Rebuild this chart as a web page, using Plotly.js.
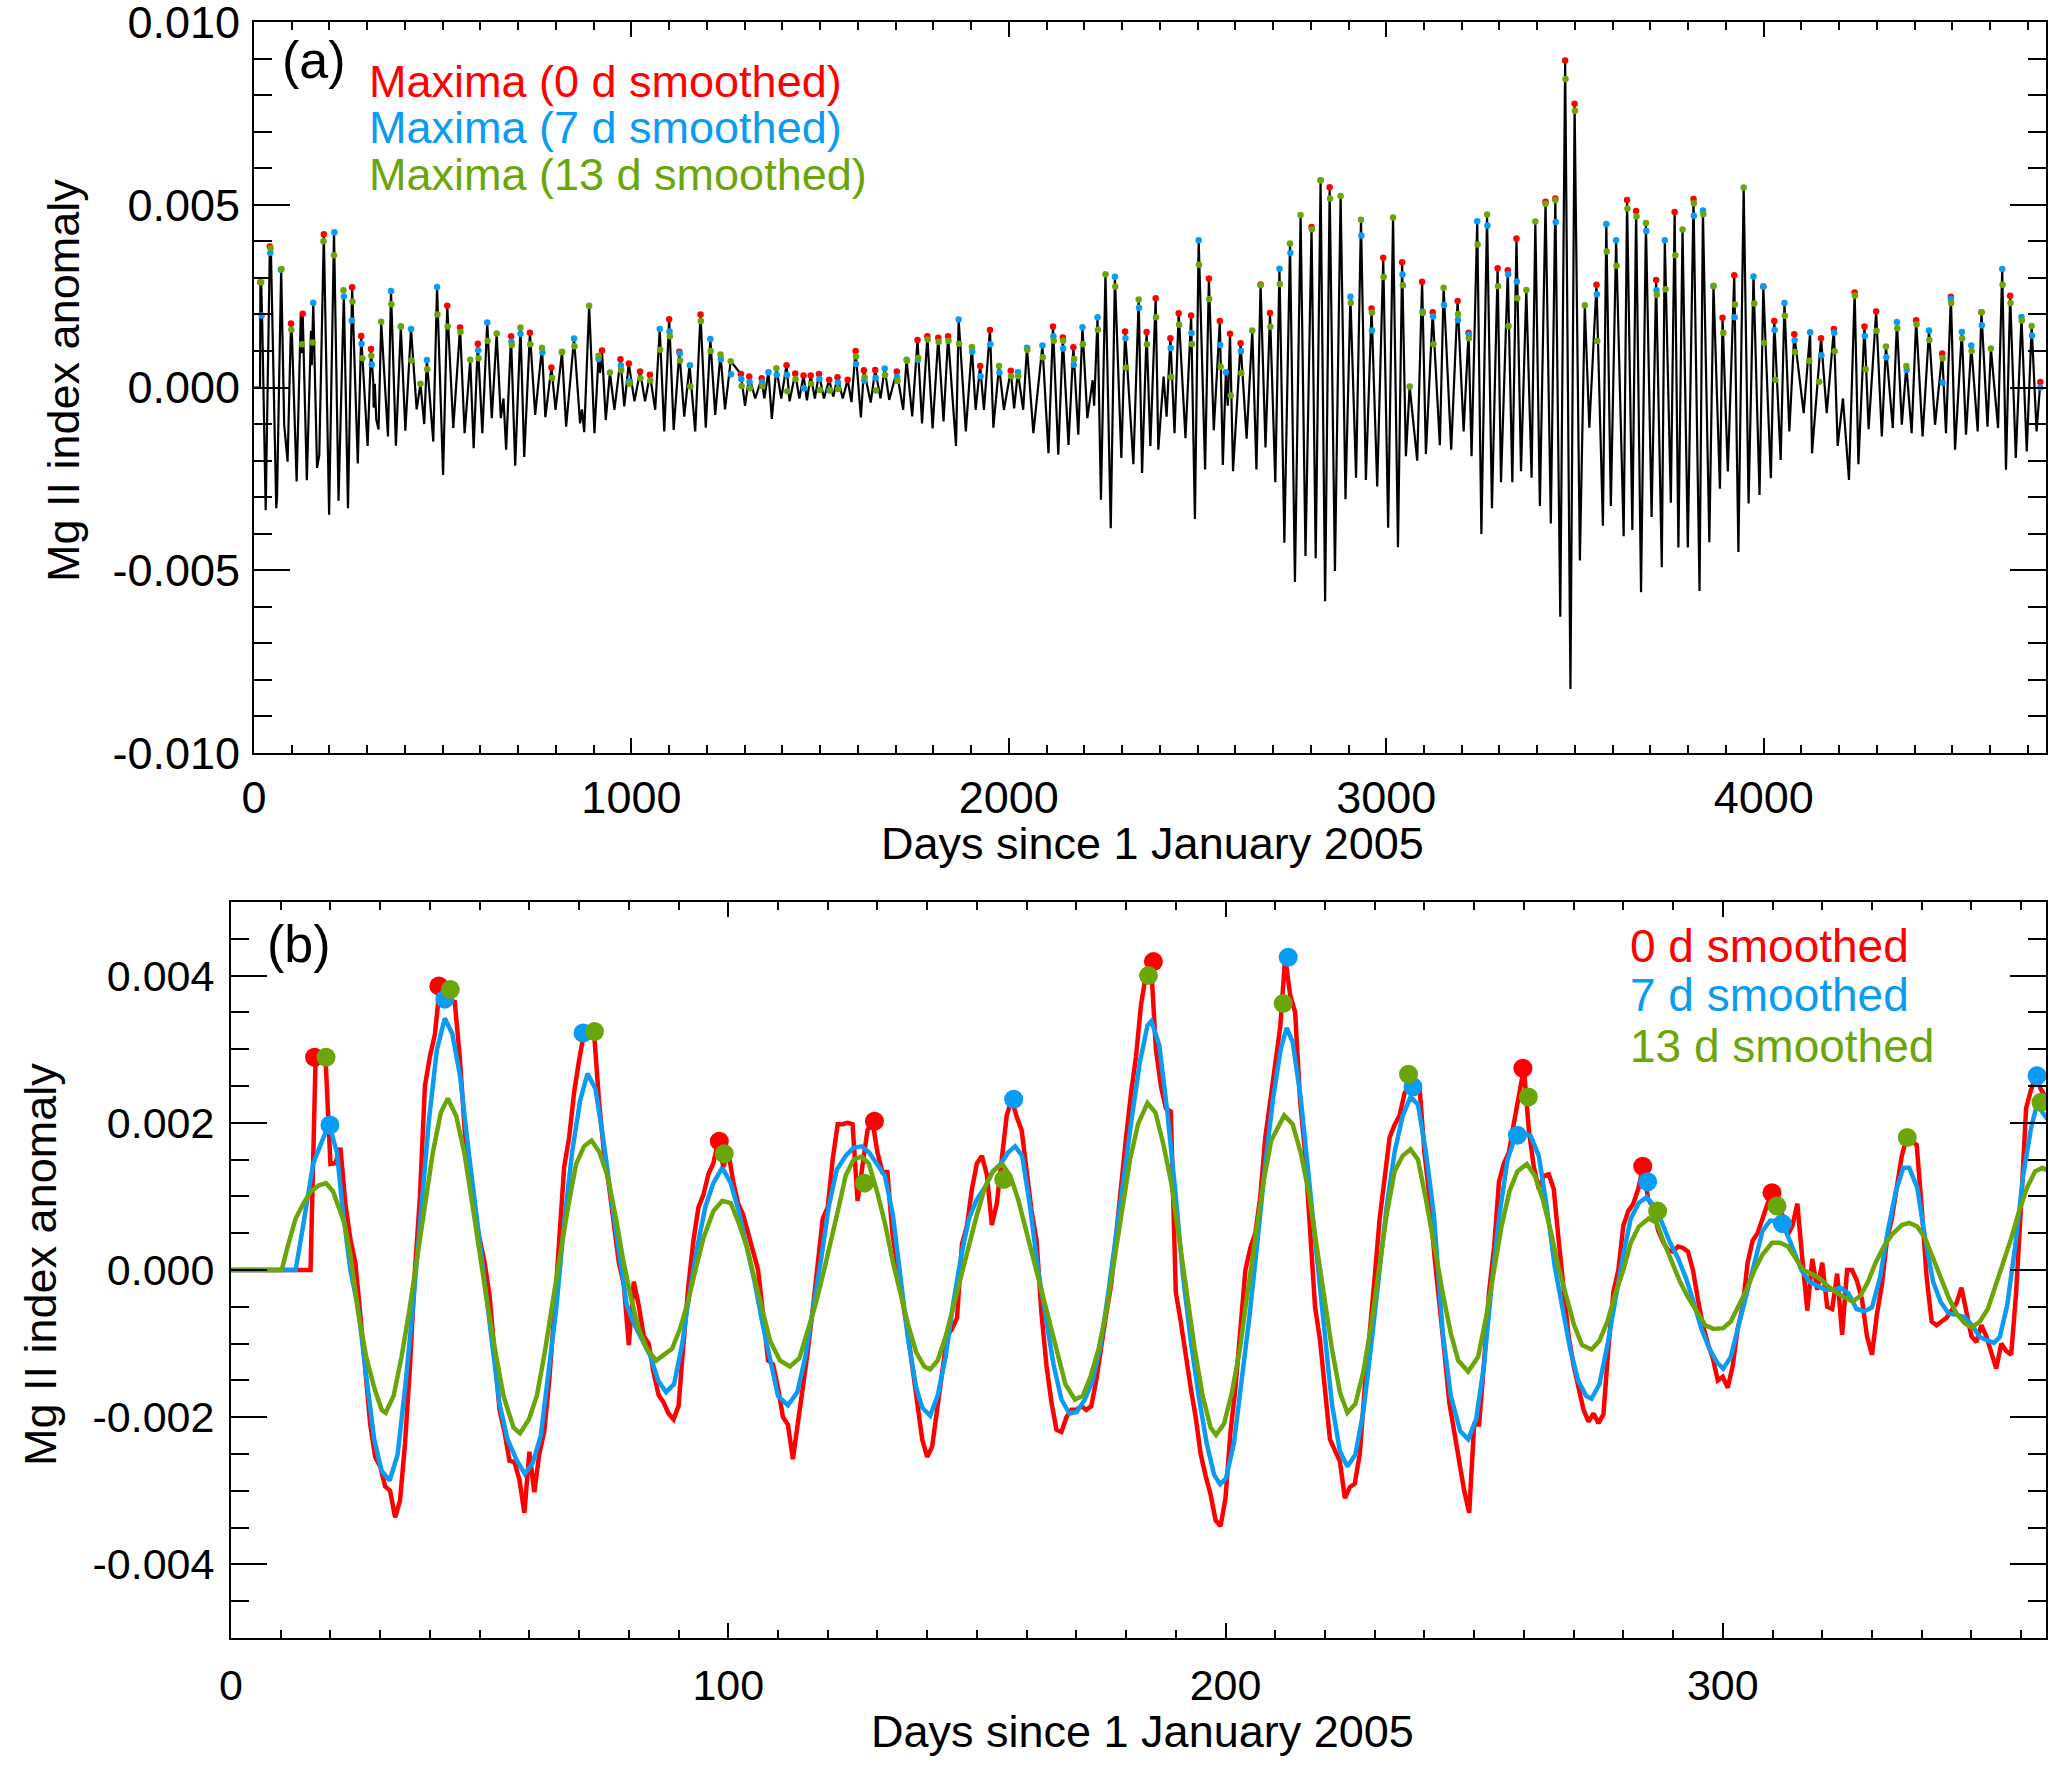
<!DOCTYPE html>
<html>
<head>
<meta charset="utf-8">
<script src="https://cdn.plot.ly/plotly-3.0.1.min.js"></script>
<style>
  html, body { margin: 0; padding: 0; background: #fff; }
  #plot { width: 2067px; height: 1775px; }
</style>
</head>
<body>
<div id="plot"></div>
<script>
// All anomaly values below are in units of 1e-3

// Panel (a): 0 d smoothed Mg II anomaly, turning points [day, value]
const lineA = [
  [0,0],[16,0],[17,2.84],[19,2.89],[22,1.66],[31,-3.36],[42,3.86],[45,3.64],[59,-3.3],[61,-3.02],
  [72,3.24],[80,-1.02],[89,-2.03],[98,1.75],[100,1.6],[113,-2.57],[124,2.0],[126,0.94],[129,2.02],
  [140,-2.54],[151,1.55],[153,0.61],[157,2.32],[167,-2.2],[173,-1.85],[185,4.19],[199,-3.48],[212,4.25],
  [224,-3.1],[238,2.55],[249,-3.3],[260,2.74],[275,-2.08],[284,1.41],[301,-1.6],[310,1.05],[316,0.15],
  [317,-0.55],[320,0.1],[324,-0.88],[330,-1.15],[337,1.8],[355,-1.34],[363,2.64],
  [376,-1.59],[389,1.67],[401,-1.18],[416,1.6],[431,-0.6],[441,0.1],[451,-1.0],[458,0.75],[475,-1.48],
  [485,2.75],[501,-2.39],[512,2.24],[528,-1.11],[546,1.64],[558,-1.25],[573,0.76],[582,-1.66],[593,1.2],
  [605,-1.25],[618,1.78],[630,-0.84],[643,1.48],[654,-0.84],[661,-0.3],[668,-1.7],[681,1.4],[692,-2.14],
  [706,1.64],[716,-1.9],[731,1.5],[745,-0.75],[763,1.09],[772,-0.81],[788,0.55],[799,-0.61],[816,0.97],
  [827,-1.07],[848,1.34],[864,-0.98],[869,-0.6],[875,-1.22],[888,2.24],[902,-1.25],[913,0.87],[917,0.4],
  [922,1.01],[932,-0.89],[943,0.41],[955,-0.61],[971,0.77],[981,-0.52],[993,0.66],[1008,-0.38],[1023,0.44],
  [1036,-0.38],[1049,0.35],[1063,-0.61],[1075,1.6],[1087,-1.2],[1100,1.87],[1112,-1.16],[1127,0.98],
  [1140,-0.8],[1154,0.61],[1169,-1.2],[1183,2.0],[1197,-1.1],[1209,1.33],[1222,-0.75],[1236,0.9],[1248,-0.6],
  [1263,0.72],[1290,0.37],[1301,-0.5],[1312,0.3],[1328,-0.3],[1345,0.25],[1352,-0.3],[1363,0.42],[1372,-0.86],
  [1384,0.53],[1397,-0.3],[1411,0.61],[1419,-0.38],[1434,0.38],[1445,-0.3],[1456,0.33],[1465,-0.35],
  [1475,0.33],[1486,-0.3],[1497,0.37],[1510,-0.3],[1524,0.21],[1535,-0.25],[1546,0.28],[1560,-0.3],
  [1573,0.21],[1583,-0.4],[1594,1.0],[1608,-0.82],[1616,0.47],[1634,-0.41],[1646,0.48],[1660,-0.3],
  [1671,0.52],[1683,-0.34],[1703,0.44],[1720,-0.61],[1729,0.76],[1744,-0.79],[1758,1.3],[1770,-0.98],
  [1784,1.4],[1798,-1.12],[1813,1.36],[1827,-0.93],[1839,1.4],[1860,-1.6],[1867,1.86],[1886,-1.2],
  [1902,1.1],[1912,-0.61],[1924,0.59],[1934,-0.61],[1950,1.57],[1959,-1.1],[1974,0.59],[1987,-0.61],
  [2005,0.46],[2014,-0.57],[2024,0.42],[2038,-0.61],[2048,1.09],[2065,-1.25],[2089,1.15],[2105,-1.8],
  [2117,1.67],[2131,-1.84],[2143,1.37],[2158,-1.57],[2171,1.1],[2184,-1.29],[2195,1.65],[2208,-0.84],
  [2222,0.2],[2226,-0.5],[2235,1.92],[2244,-3.07],[2256,3.1],[2270,-3.85],[2281,3.03],[2298,-1.93],
  [2308,1.53],[2330,-2.1],[2344,2.41],[2353,-2.34],[2365,1.52],[2375,-1.6],[2389,2.44],[2396,-1.7],
  [2410,0.3],[2418,-0.8],[2428,1.35],[2439,-1.25],[2450,2.03],[2468,-1.39],[2483,1.97],[2493,-3.6],
  [2503,4.03],[2520,-2.24],[2530,2.98],[2543,-1.17],[2559,1.82],[2567,-2.12],[2575,0.42],[2580,-0.5],
  [2586,1.47],[2594,-2.29],[2614,1.21],[2630,-1.4],[2645,1.56],[2656,-2.24],[2667,2.82],[2680,-1.64],
  [2692,2.04],[2706,-2.59],[2717,3.25],[2730,-4.25],[2745,3.94],[2758,-5.32],[2773,4.72],[2786,-4.61],
  [2802,4.39],[2813,-4.67],[2826,5.67],[2838,-5.85],[2850,5.48],[2864,-5.02],[2879,5.24],[2892,-3.06],
  [2905,2.48],[2920,-2.47],[2933,4.59],[2946,-2.53],[2961,2.16],[2976,-2.71],[2992,3.55],[3005,-3.84],
  [3018,4.65],[3031,-4.37],[3042,3.43],[3052,-1.88],[3062,0.03],[3082,-2.0],[3095,2.89],[3105,-1.82],
  [3123,2.06],[3142,-1.58],[3152,2.73],[3172,-1.7],[3189,2.37],[3205,-1.2],[3218,1.5],[3226,-1.88],
  [3241,4.55],[3252,-4.01],[3267,4.73],[3280,-3.3],[3295,3.26],[3304,-2.59],[3322,3.21],[3334,-2.59],
  [3345,4.08],[3357,-2.29],[3371,2.67],[3385,-2.47],[3395,4.54],[3407,-3.24],[3422,5.08],[3436,-3.72],
  [3448,5.17],[3461,-6.27],[3474,8.95],[3488,-8.25],[3499,7.76],[3513,-4.73],[3526,2.25],[3538,-1.1],
  [3557,2.81],[3574,-3.78],[3583,4.47],[3595,-3.24],[3609,4.03],[3629,-4.07],[3638,5.13],[3652,-3.9],
  [3662,4.83],[3675,-5.6],[3688,4.5],[3703,-3.54],[3715,2.94],[3730,-4.92],[3738,4.03],[3754,-3.15],
  [3764,4.8],[3774,-4.38],[3785,4.32],[3799,-4.38],[3814,5.16],[3830,-5.57],[3839,4.84],[3856,-4.23],
  [3867,2.78],[3884,-2.77],[3891,1.91],[3905,-2.3],[3922,3.07],[3933,-4.5],[3947,5.47],[3960,-3.17],
  [3973,3.04],[3989,-2.94],[3999,2.76],[4019,-2.48],[4028,1.82],[4045,-1.98],[4055,2.31],[4068,-1.2],
  [4081,1.46],[4106,-0.7],[4123,1.51],[4128,-1.8],[4152,1.35],[4167,-0.7],[4186,1.6],[4196,-1.6],
  [4210,-0.3],[4226,-2.53],[4241,2.6],[4251,-2.1],[4267,1.67],[4278,-1.14],[4298,2.08],[4313,-1.34],
  [4324,1.12],[4342,-1.11],[4353,1.79],[4366,-1.02],[4378,0.59],[4392,-1.25],[4404,1.84],[4421,-1.34],
  [4438,1.56],[4454,-1.02],[4473,0.93],[4483,-1.25],[4496,2.48],[4507,-1.7],[4525,1.52],[4536,-1.29],
  [4550,1.15],[4567,-1.2],[4577,2.06],[4593,-1.07],[4602,1.07],[4621,-1.11],[4632,3.24],[4642,-2.25],
  [4653,2.51],[4668,-1.93],[4683,1.93],[4697,-1.75],[4710,1.68],[4723,-1.2],[4733,0.15]
];

// Panel (a): maxima found in the 0, 7 and 13 d smoothed series [day, value]
const maxA0 = [
  [17,2.88],[42,3.86],[98,1.75],[129,2.02],[185,4.19],[260,2.74],[284,1.41],[310,1.05],[512,2.24],
  [546,1.64],[593,1.2],[681,1.4],[731,1.5],[788,0.55],[816,0.97],[922,1.01],[971,0.77],[993,0.66],
  [1023,0.44],[1049,0.35],[1100,1.87],[1127,0.98],[1183,2.0],[1290,0.37],[1312,0.3],[1345,0.25],
  [1411,0.61],[1434,0.38],[1456,0.33],[1475,0.33],[1497,0.37],[1524,0.21],[1546,0.28],[1573,0.21],
  [1594,1.0],[1616,0.47],[1646,0.48],[1703,0.44],[1758,1.3],[1784,1.4],[1813,1.36],[1839,1.4],
  [1924,0.59],[1950,1.57],[2005,0.46],[2117,1.67],[2143,1.37],[2171,1.1],[2308,1.53],[2365,1.52],
  [2389,2.44],[2428,1.35],[2450,2.03],[2483,1.97],[2530,2.98],[2559,1.82],[2586,1.47],[2614,1.21],
  [2667,2.82],[2692,2.04],[2802,4.39],[2850,5.48],[2961,2.16],[2992,3.55],[3042,3.43],[3095,2.89],
  [3123,2.06],[3189,2.37],[3218,1.5],[3295,3.26],[3322,3.21],[3345,4.08],[3422,5.08],[3448,5.17],
  [3474,8.95],[3499,7.76],[3557,2.81],[3638,5.13],[3662,4.83],[3715,2.94],[3764,4.8],[3814,5.16],
  [3891,1.91],[3922,3.07],[3999,2.76],[4028,1.82],[4081,1.46],[4152,1.35],[4186,1.6],[4241,2.6],
  [4267,1.67],[4298,2.08],[4404,1.84],[4473,0.93],[4496,2.48],[4577,2.06],[4653,2.51],[4733,0.15]
];
const maxA7 = [
  [20,1.97],[43,3.68],[71,3.22],[157,2.32],[213,4.25],[238,2.49],[259,1.83],[285,1.2],[312,0.63],
  [363,2.64],[389,1.67],[416,1.6],[458,0.75],[485,2.75],[594,1.02],[618,1.78],[682,1.25],[706,1.47],
  [764,0.96],[848,1.34],[913,0.78],[972,0.6],[994,0.17],[1075,1.6],[1101,1.53],[1128,0.93],[1155,0.61],
  [1209,1.33],[1237,0.77],[1264,0.36],[1291,0.23],[1313,0.15],[1346,0.15],[1363,0.42],[1385,0.35],
  [1412,0.35],[1457,-0.02],[1498,0.23],[1525,-0.07],[1547,0.14],[1595,0.64],[1617,0.19],[1647,0.26],
  [1671,0.52],[1704,0.29],[1729,0.76],[1759,0.75],[1867,1.86],[1903,0.98],[1925,0.31],[1951,1.18],
  [1975,0.41],[2024,0.42],[2048,1.09],[2089,1.15],[2118,1.4],[2144,1.07],[2172,0.62],[2195,1.65],
  [2235,1.92],[2281,3.03],[2309,1.35],[2345,2.18],[2429,1.08],[2484,1.49],[2503,4.03],[2560,1.16],
  [2575,0.42],[2615,1.0],[2717,3.25],[2746,3.68],[2826,5.67],[2905,2.48],[2934,4.16],[2962,1.56],
  [3043,3.09],[3096,2.08],[3124,1.94],[3153,2.26],[3190,1.85],[3219,1.45],[3241,4.55],[3268,4.43],
  [3323,3.1],[3346,2.9],[3449,4.53],[3558,2.55],[3583,4.47],[3609,4.03],[3689,4.28],[3716,2.66],
  [3738,4.03],[3815,4.7],[3839,4.84],[3867,2.78],[3923,1.92],[3973,3.04],[3999,2.76],[4029,1.57],
  [4055,2.31],[4082,1.29],[4123,1.51],[4153,0.88],[4187,1.5],[4268,1.41],[4325,0.83],[4353,1.79],
  [4379,0.48],[4438,1.56],[4474,0.13],[4496,2.42],[4525,1.52],[4550,1.15],[4578,1.7],[4632,3.24],
  [4683,1.93],[4711,1.42],[4733,0.0]
];
const maxA13 = [
  [19,2.88],[44,3.81],[73,3.24],[99,1.58],[127,1.18],[155,1.23],[184,4.0],[212,3.62],[237,2.66],
  [261,2.35],[287,0.8],[311,0.87],[337,1.8],[364,2.28],[389,1.67],[417,0.74],[441,0.1],[459,0.5],
  [486,2.0],[513,1.67],[547,1.52],[573,0.76],[595,0.8],[619,1.28],[643,1.48],[683,1.16],[706,1.64],
  [732,1.18],[763,1.09],[790,0.26],[816,0.97],[849,1.13],[888,2.24],[913,0.87],[943,0.41],[973,0.47],
  [995,0.1],[1024,0.25],[1050,0.19],[1076,1.03],[1102,1.4],[1129,0.74],[1156,0.03],[1184,1.82],
  [1210,1.0],[1236,0.9],[1263,0.72],[1292,0.04],[1314,-0.02],[1347,0.04],[1384,0.53],[1413,-0.1],
  [1435,0.23],[1476,0.1],[1499,-0.07],[1526,-0.08],[1548,-0.04],[1595,0.85],[1618,0.28],[1648,-0.08],
  [1672,0.34],[1705,0.18],[1730,0.73],[1760,0.81],[1785,1.31],[1814,1.25],[1840,1.28],[1868,1.2],
  [1902,1.11],[1974,0.59],[2006,0.31],[2025,0.31],[2049,1.03],[2090,0.83],[2119,1.28],[2144,1.28],
  [2173,0.78],[2196,1.18],[2236,1.58],[2256,3.1],[2282,2.76],[2310,0.55],[2344,2.41],[2366,1.18],
  [2390,1.92],[2430,0.29],[2451,1.72],[2485,1.19],[2504,3.36],[2531,2.42],[2561,0.57],[2588,-0.22],
  [2616,0.4],[2645,1.56],[2667,2.8],[2693,1.66],[2718,2.83],[2745,3.94],[2773,4.72],[2803,4.33],
  [2826,5.67],[2851,5.17],[2879,5.24],[2906,2.32],[2933,4.59],[2962,2.05],[2993,3.02],[3018,4.65],
  [3044,2.8],[3062,0.03],[3097,2.04],[3125,1.18],[3152,2.73],[3190,2.01],[3219,1.35],[3242,3.91],
  [3267,4.73],[3296,2.77],[3324,1.68],[3347,2.44],[3371,2.67],[3395,4.54],[3422,5.03],[3448,5.13],
  [3475,8.44],[3500,7.57],[3526,2.25],[3559,1.27],[3584,3.72],[3610,3.33],[3639,4.9],[3663,4.68],
  [3688,4.5],[3717,2.54],[3740,2.69],[3766,3.62],[3785,4.32],[3815,5.04],[3840,4.74],[3867,2.78],
  [3893,1.5],[3924,2.27],[3947,5.47],[3975,2.3],[4001,1.22],[4031,0.21],[4056,1.96],[4083,0.97],
  [4121,0.73],[4147,0.16],[4188,0.99],[4242,2.52],[4270,0.5],[4299,1.55],[4324,1.12],[4354,1.62],
  [4378,0.59],[4405,1.73],[4439,1.3],[4474,0.8],[4497,2.31],[4526,1.34],[4551,1.0],[4577,2.06],
  [4602,1.07],[4633,2.81],[4654,2.31],[4684,1.83],[4710,1.68]
];

// Panel (b): first year, three smoothings [day, value]
const lineB0 = [
  [0,0],[16,0],[17,2.84],[19,2.89],[20,1.44],[21,1.45],[22,1.66],[23,0.9],[24,0.42],[25,0.1],[26,-0.6],
  [27,-1.44],[28,-2.1],[29,-2.54],[30,-2.67],[31,-2.94],[32,-3.0],[33,-3.36],[34,-3.13],[35,-2.35],
  [36,-1.3],[37,0.0],[38,1.0],[39,2.5],[40,2.9],[41,3.2],[42,3.86],[43,3.7],[44,3.64],[45,3.64],
  [46,2.9],[47,1.9],[48,1.18],[49,0.75],[50,0.4],[51,0.1],[52,-0.35],[53,-1.2],[54,-1.9],[55,-2.2],
  [56,-2.59],[57,-2.61],[58,-2.85],[59,-3.3],[60,-2.47],[61,-3.02],[62,-2.5],[63,-2.19],[64,-1.5],
  [65,-0.6],[66,0.5],[67,1.4],[68,1.8],[69,2.41],[70,2.85],[71,3.22],[72,3.24],[73,3.24],[74,2.3],
  [75,1.6],[76,1.15],[77,0.6],[78,0.1],[79,-0.2],[80,-1.02],[81,-0.16],[82,-0.48],[83,-0.9],[84,-1.0],
  [85,-1.4],[86,-1.7],[87,-1.8],[88,-1.95],[89,-2.03],[90,-1.85],[91,-1.0],[92,-0.2],[93,0.4],[94,0.85],
  [95,1.02],[96,1.3],[97,1.45],[98,1.75],[99,1.4],[100,1.6],[101,1.2],[102,0.9],[103,0.75],[104,0.5],
  [105,0.3],[106,0.0],[107,-0.6],[108,-1.23],[109,-1.28],[110,-1.6],[111,-2.0],[112,-2.1],[113,-2.57],
  [114,-2.1],[115,-1.6],[116,-1.1],[117,-0.53],[118,0.1],[119,0.7],[120,0.85],[121,1.5],[122,1.98],
  [123,1.98],[124,2.0],[125,1.98],[126,0.94],[127,1.4],[128,1.9],[129,2.02],[130,1.6],[131,1.33],
  [132,1.33],[133,0.5],[134,0.0],[135,-0.4],[136,-0.8],[137,-1.3],[138,-1.85],[139,-2.3],[140,-2.54],
  [141,-2.4],[142,-1.9],[143,-1.4],[144,-0.9],[145,-0.8],[146,-0.65],[147,0.35],[148,0.6],[149,1.1],
  [150,1.45],[151,1.55],[152,1.3],[153,0.61],[154,0.9],[155,1.5],[156,2.1],[157,2.32],[158,2.08],
  [159,1.9],[160,1.3],[161,0.8],[162,0.4],[163,-0.6],[164,-1.3],[165,-1.8],[166,-2.17],[167,-2.2],
  [168,-2.0],[169,-1.9],[170,-1.9],[171,-1.85],[172,-1.9],[173,-1.85],[174,-1.5],[175,-1.0],[176,-0.6],
  [177,-0.2],[178,0.5],[179,1.2],[180,1.8],[181,2.4],[182,2.9],[183,3.6],[184,4.01],[185,4.19],[186,3.0],
  [187,2.5],[188,2.2],[189,2.15],[190,-0.3],[191,-0.7],[192,-1.2],[193,-1.6],[194,-2.0],[195,-2.5],
  [196,-2.8],[197,-3.05],[198,-3.4],[199,-3.48],[200,-3.1],[201,-2.2],[202,-1.6],[203,-0.8],[204,0.0],
  [205,0.3],[206,0.5],[207,1.0],[208,1.8],[209,2.3],[210,2.8],[211,3.3],[212,4.25],[213,3.74],[214,3.5],
  [215,2.3],[216,1.6],[217,0.6],[218,-0.5],[219,-0.95],[220,-1.6],[221,-2.3],[222,-2.45],[223,-2.6],
  [224,-3.1],[225,-2.95],[226,-2.9],[227,-2.5],[228,-1.6],[229,-0.9],[230,-0.1],[231,0.7],[232,1.2],
  [233,1.8],[234,1.97],[235,2.1],[236,2.4],[237,2.51],[238,2.55],[239,2.5],[240,1.6],[241,1.0],[242,0.2],
  [243,-0.4],[244,-1.1],[245,-1.8],[246,-2.25],[247,-2.6],[248,-3.0],[249,-3.3],[250,-2.1],[251,-2.1],
  [252,-1.25],[253,-0.3],[254,0.3],[255,1.2],[256,1.45],[257,1.6],[258,2.0],[259,2.4],[260,2.74],
  [261,1.9],[262,1.4],[263,1.1],[264,1.28],[265,1.3],[266,1.1],[267,0.4],[268,-0.2],[269,-0.9],[270,-1.3],
  [271,-1.6],[272,-1.9],[273,-2.06],[274,-1.95],[275,-2.08],[276,-1.96],[277,-1.06],[278,-0.3],[279,0.0],
  [280,0.6],[281,0.8],[282,0.9],[283,1.1],[284,1.41],[285,0.96],[286,0.86],[287,0.54],[288,0.38],
  [289,0.27],[290,0.25],[291,0.32],[292,0.3],[293,0.25],[294,0.0],[295,-0.4],[296,-0.75],[297,-1.0],
  [298,-1.2],[299,-1.5],[300,-1.45],[301,-1.6],[302,-1.3],[303,-0.8],[304,-0.5],[305,0.1],[306,0.4],
  [307,0.5],[308,0.7],[309,0.9],[310,1.05],[311,0.86],[312,0.75],[313,0.47],[314,0.6],[315,0.9],
  [316,0.15],[317,-0.55],[318,0.15],[319,-0.27],[320,0.1],[321,-0.5],[322,-0.53],[323,-0.05],[324,-0.88],
  [325,0.0],[326,0.0],[327,-0.15],[328,-0.4],[329,-0.9],[330,-1.15],[331,-0.6],[332,-0.2],[333,0.4],
  [334,0.7],[335,1.1],[336,1.55],[337,1.8],[338,1.75],[339,1.7],[340,0.85],[341,-0.1],[342,-0.7],
  [343,-0.75],[344,-0.7],[345,-0.65],[346,-0.55],[347,-0.45],[348,-0.24],[349,-0.6],[350,-0.9],
  [351,-0.98],[352,-0.75],[353,-0.9],[354,-1.1],[355,-1.34],[356,-1.0],[357,-1.1],[358,-1.15],
  [359,-0.3],[360,0.9],[361,2.2],[362,2.45],[363,2.64],[364,2.45],[365,2.35]
];
const lineB7 = [
  [0,0],[13,0],[14.6,0.64],[16.5,1.44],[18,1.7],[19.7,1.98],[21.3,1.6],[22.4,0.86],[24,0],[25.6,-0.53],
  [27.2,-1.44],[28.8,-2.3],[30.3,-2.73],[31.9,-2.86],[33.5,-2.51],[35.1,-1.55],[36.6,-0.48],[38.2,0.86],
  [39.8,2.03],[41.4,2.99],[43,3.42],[44.5,3.21],[46.1,2.62],[47.7,1.66],[49.3,0.75],[50.8,-0.1],
  [52.4,-1.02],[54,-1.82],[55.6,-2.3],[57.5,-2.59],[59.1,-2.77],[60.7,-2.62],[62.3,-2.25],[63.8,-1.44],
  [65.4,-0.53],[67,0.64],[68.6,1.6],[70.2,2.3],[71.7,2.67],[73.3,2.46],[74.9,1.76],[76.5,0.96],[78,0.21],
  [79.6,-0.48],[81.2,-0.75],[82.8,-0.96],[84.4,-1.18],[85.9,-1.5],[87.5,-1.66],[89.1,-1.55],[90.7,-1.02],
  [92.2,-0.32],[93.8,0.32],[95.4,0.86],[97,1.18],[98.8,1.39],[100.5,1.18],[102.1,0.8],[103.7,0.32],
  [105.3,-0.16],[106.8,-0.7],[108.4,-1.18],[110,-1.71],[112,-1.84],[113.9,-1.66],[115.5,-1.18],
  [117.1,-0.53],[118.7,0.16],[120.2,0.86],[121.8,1.36],[123.6,1.55],[125.2,1.66],[126.8,1.68],
  [128.3,1.6],[129.9,1.44],[131.5,1.28],[133.1,0.75],[134.6,-0.11],[136.2,-0.96],[137.8,-1.6],
  [139,-1.87],[140.6,-1.98],[142.1,-1.71],[143.7,-1.18],[145.3,-0.43],[146.9,0.21],[148.4,0.7],
  [150,0.96],[151.6,1.12],[153.2,1.34],[154.8,1.44],[156.3,1.6],[157.7,1.68],[159.1,1.55],[160.7,0.86],
  [162.2,0.05],[163.8,-0.64],[165.4,-1.28],[167,-1.76],[168.6,-1.95],[170.1,-1.93],[171.7,-1.76],
  [173.3,-1.5],[174.9,-1.02],[176.4,-0.32],[178,0.43],[179.6,1.28],[181.2,2.09],[182.8,2.83],
  [184.3,3.32],[185.1,3.38],[186.7,3.05],[188.3,2.14],[189.9,1.07],[191.4,-0.05],[193,-0.96],
  [194.6,-1.71],[196.2,-2.35],[197.7,-2.78],[198.9,-2.91],[200.1,-2.83],[201.7,-2.35],[203.2,-1.55],
  [204.8,-0.64],[206.4,0.37],[208,1.44],[209.6,2.35],[211.1,3.0],[212.3,3.29],[213.5,3.1],[215.1,2.35],
  [216.7,1.28],[218.2,0.21],[219.8,-0.86],[221.4,-1.82],[223,-2.46],[224.5,-2.67],[226.1,-2.51],
  [227.7,-1.93],[229.3,-1.02],[230.9,-0.05],[232.4,0.86],[234,1.6],[235.6,2.09],[237.2,2.35],
  [238.7,2.25],[240.3,1.6],[241.9,0.75],[243.7,-0.86],[245.3,-1.71],[247.2,-2.19],[248.8,-2.3],
  [250.4,-2.03],[252,-1.28],[253.5,-0.21],[255.1,0.75],[256.7,1.5],[258.3,1.82],[259.8,1.87],
  [261.4,1.82],[263,1.55],[264.6,0.86],[266.2,0.05],[267.7,-0.53],[269.3,-1.07],[270.9,-1.5],
  [272.5,-1.71],[273.6,-1.75],[275.2,-1.55],[276.8,-1.02],[278.4,-0.37],[280,0.21],[281.5,0.7],
  [283.1,0.91],[284.7,0.99],[286.3,0.86],[287.8,0.64],[289.4,0.37],[291,0.16],[292.6,-0.11],
  [294.1,-0.43],[295.7,-0.8],[297.3,-1.07],[298.9,-1.26],[300.1,-1.34],[301.6,-1.18],[303.2,-0.75],
  [304.8,-0.32],[306.4,0.16],[308,0.53],[309.5,0.67],[311.1,0.67],[312.7,0.53],[314.3,0.27],[315.8,0.0],
  [317.4,-0.16],[319,-0.21],[320.6,-0.27],[322.1,-0.27],[323.7,-0.24],[325.3,-0.32],[326.9,-0.53],
  [328.5,-0.56],[330,-0.51],[331.6,-0.11],[333.2,0.53],[334.8,1.07],[336.3,1.39],[337.5,1.39],
  [339.1,1.12],[340.7,0.43],[342.3,-0.16],[343.8,-0.43],[345.4,-0.59],[347,-0.61],[348.6,-0.64],
  [350.1,-0.75],[351.7,-0.91],[353.3,-0.96],[354.5,-0.99],[355.7,-0.91],[357.2,-0.48],[358.8,0.32],
  [360.4,1.28],[362,1.93],[363.2,2.25],[364.3,2.14],[365.5,2.03]
];
const lineB13 = [
  [0,0],[10.2,0],[11.4,0.32],[13,0.7],[14.6,0.91],[16.1,1.07],[17.7,1.15],[19.1,1.18],[20.5,1.07],
  [21.7,0.86],[22.8,0.64],[24,0.21],[25.6,-0.59],[27.2,-1.18],[28.8,-1.6],[30.3,-1.9],[31.1,-1.94],
  [32.7,-1.71],[34.3,-1.18],[35.9,-0.53],[37.4,0.16],[39,0.86],[40.6,1.6],[42.2,2.14],[43.6,2.33],
  [45.3,2.09],[46.9,1.6],[48.5,0.91],[50.1,0.16],[51.6,-0.48],[53.2,-1.12],[54.8,-1.71],[56.8,-2.14],
  [58.1,-2.22],[59.9,-2.03],[61.5,-1.71],[63.1,-1.12],[64.6,-0.43],[66.2,0.21],[67.8,0.86],[69.4,1.44],
  [71,1.68],[72.5,1.76],[74.1,1.6],[75.7,1.28],[77.3,0.75],[78.8,0.16],[80.4,-0.37],[82,-0.8],
  [83.6,-1.07],[85.5,-1.23],[87.1,-1.15],[88.7,-1.07],[90.3,-0.8],[91.9,-0.43],[93.4,0.0],[95,0.43],
  [97,0.8],[98.8,0.94],[100.5,0.91],[102.1,0.64],[103.7,0.32],[105.3,-0.11],[106.8,-0.53],[108.4,-0.96],
  [110.4,-1.23],[112.4,-1.31],[114.3,-1.2],[115.9,-0.86],[117.5,-0.48],[119.1,-0.05],[120.6,0.37],
  [122.2,0.85],[123.6,1.28],[125.2,1.5],[126.8,1.54],[128.3,1.44],[129.9,1.07],[131.5,0.64],[133.1,0.11],
  [134.6,-0.32],[136.2,-0.75],[137.8,-1.12],[139.4,-1.31],[140.6,-1.35],[142.1,-1.23],[143.7,-0.91],
  [145.3,-0.48],[146.9,-0.05],[148.4,0.37],[150,0.75],[151.6,1.12],[153.2,1.34],[155.1,1.44],
  [156.7,1.28],[158.3,0.96],[159.9,0.53],[161.5,0.11],[163,-0.32],[164.6,-0.75],[166.2,-1.18],
  [167.8,-1.55],[169.7,-1.76],[171.3,-1.71],[172.9,-1.44],[174.5,-1.07],[176.1,-0.53],[177.6,0.11],
  [179.2,0.86],[180.8,1.5],[182.4,1.98],[184.3,2.27],[185.9,2.14],[187.5,1.71],[189.1,1.18],[190.6,0.43],
  [192.2,-0.32],[193.8,-1.07],[195.4,-1.71],[197,-2.14],[198.1,-2.24],[199.7,-2.09],[201.3,-1.66],
  [202.9,-1.07],[204.4,-0.32],[206,0.43],[207.6,1.18],[209.2,1.76],[211.8,2.1],[213.5,1.98],[215.1,1.6],
  [216.7,1.07],[218.2,0.37],[219.8,-0.32],[221.4,-1.07],[223,-1.66],[224.5,-1.94],[226.1,-1.82],
  [227.7,-1.39],[229.3,-0.75],[230.9,0.0],[232.4,0.75],[234,1.34],[235.6,1.55],[237.2,1.64],[238.7,1.5],
  [240.3,0.96],[241.9,0.32],[243.7,-0.32],[245.3,-0.86],[246.8,-1.23],[248.8,-1.38],[250.8,-1.18],
  [252.4,-0.64],[253.9,0.0],[255.5,0.59],[257.1,1.07],[258.7,1.34],[260.6,1.44],[262.2,1.28],
  [263.8,0.96],[265.4,0.53],[266.9,0.05],[268.5,-0.37],[270.1,-0.75],[271.7,-1.02],[273.6,-1.08],
  [275.2,-0.96],[276.8,-0.7],[278.4,-0.32],[280,0.0],[281.5,0.37],[283.1,0.59],[285.1,0.7],[286.7,0.64],
  [288.2,0.37],[289.8,0.11],[291.4,-0.16],[293,-0.37],[294.5,-0.53],[296.5,-0.75],[298.1,-0.8],
  [300.1,-0.79],[301.6,-0.7],[303.2,-0.48],[304.8,-0.27],[306.4,0.0],[308,0.21],[309.9,0.37],
  [311.5,0.37],[313.1,0.32],[314.7,0.16],[316.2,0.0],[317.8,-0.05],[319.4,-0.11],[321,-0.21],
  [322.5,-0.29],[324.5,-0.37],[326.1,-0.43],[327.7,-0.35],[329.2,-0.16],[330.8,0.11],[332.4,0.32],
  [334,0.48],[336,0.61],[337.5,0.64],[339.1,0.59],[340.7,0.43],[342.3,0.16],[343.8,-0.11],[345.4,-0.37],
  [347,-0.59],[348.6,-0.72],[350.1,-0.78],[351.7,-0.7],[353.3,-0.53],[354.9,-0.21],[356.5,0.11],
  [358,0.43],[359.6,0.8],[361.2,1.12],[362.8,1.34],[364.3,1.39],[365.5,1.34]
];
const maxB0 = [[16.8,2.89],[41.8,3.86],[98.2,1.75],[129.4,2.02],[185.5,4.19],[259.8,2.74],[283.9,1.41],[309.9,1.05]];
const maxB7 = [[19.9,1.97],[43,3.68],[70.8,3.22],[157.4,2.32],[212.6,4.25],[237.7,2.49],[258.7,1.83],[284.9,1.2],[312,0.63],[363.2,2.64]];
const maxB13 = [[19.1,2.89],[44.1,3.81],[73.1,3.24],[99.2,1.58],[127.4,1.18],[155.4,1.23],[184.5,4.0],[211.6,3.62],[236.8,2.66],[260.9,2.35],[286.9,0.8],[310.9,0.87],[337.1,1.8],[364,2.28]];

// Tick labels
const tickA_x = [0, 1000, 2000, 3000, 4000];
const tickA_xText = ['0', '1000', '2000', '3000', '4000'];
const tickA_y = [-0.010, -0.005, 0, 0.005, 0.010];
const tickA_yText = ['-0.010', '-0.005', '0.000', '0.005', '0.010'];
const tickB_x = [0, 100, 200, 300];
const tickB_xText = ['0', '100', '200', '300'];
const tickB_y = [-0.004, -0.002, 0, 0.002, 0.004];
const tickB_yText = ['-0.004', '-0.002', '0.000', '0.002', '0.004'];

const seriesLabelsA = ['Maxima (0 d smoothed)', 'Maxima (7 d smoothed)', 'Maxima (13 d smoothed)'];
const seriesLabelsB = ['0 d smoothed', '7 d smoothed', '13 d smoothed'];

// Helpers
const RED = '#ff0000', BLUE = '#0a9cf2', GREEN = '#6aa60a';
const FONT = 'Liberation Sans, Arial, Helvetica, sans-serif';
const xs = arr => arr.map(p => p[0]);
const ys = arr => arr.map(p => p[1] * 1e-3);

function makeLine(arr, color, width, xa, ya) {
  return { x: xs(arr), y: ys(arr), xaxis: xa, yaxis: ya,
    type: 'scatter', mode: 'lines', line: { color, width },
    hoverinfo: 'skip', showlegend: false };
}
function makeDots(arr, color, size, xa, ya) {
  return { x: xs(arr), y: ys(arr), xaxis: xa, yaxis: ya,
    type: 'scatter', mode: 'markers', marker: { color, size, line: { width: 0 } },
    hoverinfo: 'skip', showlegend: false };
}

const traces = [
  makeLine(lineA, 'black', 2.2, 'x', 'y'),
  makeDots(maxA0, RED, 6.5, 'x', 'y'),
  makeDots(maxA7, BLUE, 6.5, 'x', 'y'),
  makeDots(maxA13, GREEN, 6.5, 'x', 'y'),
  makeLine(lineB0, RED, 4.5, 'x2', 'y2'),
  makeLine(lineB7, BLUE, 4.5, 'x2', 'y2'),
  makeLine(lineB13, GREEN, 4.5, 'x2', 'y2'),
  makeDots(maxB0, RED, 19, 'x2', 'y2'),
  makeDots(maxB7, BLUE, 19, 'x2', 'y2'),
  makeDots(maxB13, GREEN, 19, 'x2', 'y2')
];

const W = 2067, H = 1775;
const axisBase = {
  showline: true, linecolor: 'black', linewidth: 2, mirror: 'allticks',
  ticks: 'inside', tickcolor: 'black', tickwidth: 2,
  showgrid: false, zeroline: false, tickmode: 'array',
  ticklabeloverflow: 'allow'
};
const tickFont = size => ({ family: FONT, size, color: 'black' });
const xMinor = (d) => ({ tickmode: 'linear', tick0: 0, dtick: d, ticks: 'inside', ticklen: 8, tickwidth: 2, tickcolor: 'black' });
const yMinor = (d) => ({ tickmode: 'linear', tick0: 0, dtick: d, ticks: 'inside', ticklen: 18, tickwidth: 2, tickcolor: 'black' });

const layout = {
  width: W, height: H,
  margin: { l: 0, r: 0, t: 0, b: 0 },
  paper_bgcolor: 'white', plot_bgcolor: 'white',
  showlegend: false,
  xaxis: { ...axisBase, domain: [254 / W, 2046 / W], range: [0, 4748], anchor: 'y',
    tickvals: tickA_x, ticktext: tickA_xText, ticklen: 15, minor: xMinor(100),
    tickfont: tickFont(45), ticklabelstandoff: 4 },
  yaxis: { ...axisBase, domain: [1 - 753 / H, 1 - 22 / H], range: [-0.010, 0.010], anchor: 'x',
    tickvals: tickA_y, ticktext: tickA_yText, ticklen: 36, minor: yMinor(0.001),
    tickfont: tickFont(45), ticklabelstandoff: 3 },
  xaxis2: { ...axisBase, domain: [231 / W, 2046 / W], range: [0, 365], anchor: 'y2',
    tickvals: tickB_x, ticktext: tickB_xText, ticklen: 15, minor: xMinor(10),
    tickfont: tickFont(43), ticklabelstandoff: 8 },
  yaxis2: { ...axisBase, domain: [1 - 1638 / H, 1 - 902 / H], range: [-0.005, 0.005], anchor: 'x2',
    tickvals: tickB_y, ticktext: tickB_yText, ticklen: 36, minor: yMinor(0.0005),
    tickfont: tickFont(43), ticklabelstandoff: 6 },
  annotations: []
};

function addText(text, x, y, color, opts = {}, size = 45) {
  layout.annotations.push(Object.assign({
    text, x: x / W, y: 1 - y / H, xref: 'paper', yref: 'paper',
    showarrow: false, font: { family: FONT, size, color },
    xanchor: 'center', yanchor: 'middle'
  }, opts));
}

// Axis titles
addText('Days since 1 January 2005', 1152, 843, 'black');
addText('Days since 1 January 2005', 1142, 1731, 'black');
addText('Mg II index anomaly', 63, 381, 'black', { textangle: -90 });
addText('Mg II index anomaly', 40, 1265, 'black', { textangle: -90 });

// Panel labels
addText('(a)', 314, 60, 'black', {}, 52);
addText('(b)', 299, 944, 'black', {}, 52);

// Legends
const colors = [RED, BLUE, GREEN];
[81, 128, 175].forEach((yy, i) => addText(seriesLabelsA[i], 367, yy, colors[i], { xanchor: 'left' }, 45));
[946, 995, 1046].forEach((yy, i) => addText(seriesLabelsB[i], 1628, yy, colors[i], { xanchor: 'left' }, 46));

Plotly.newPlot('plot', traces, layout, { staticPlot: true });
</script>
</body>
</html>
